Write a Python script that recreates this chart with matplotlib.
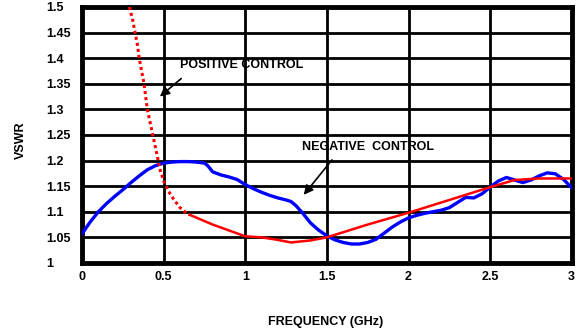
import matplotlib
matplotlib.use('Agg')
from matplotlib import pyplot as plt

plt.rcParams['font.family'] = ['Liberation Sans', 'DejaVu Sans']
plt.rcParams['font.weight'] = 'bold'

# positive control - dotted part (steep section at low freq)
pos_dot_x = [0.29, 0.31, 0.325, 0.34, 0.35, 0.365, 0.38, 0.39, 0.40, 0.42, 0.44, 0.46,
             0.48, 0.50, 0.53, 0.56, 0.60, 0.63, 0.66]
pos_dot_y = [1.50, 1.475, 1.45, 1.425, 1.40, 1.375, 1.35, 1.325, 1.30, 1.27, 1.24, 1.21,
             1.18, 1.16, 1.14, 1.125, 1.108, 1.10, 1.094]
# positive control - solid part
pos_x = [0.66, 0.8, 1.0, 1.1, 1.2, 1.28, 1.4, 1.5, 1.75, 2.0, 2.25, 2.5, 2.65, 2.8, 3.0]
pos_y = [1.094, 1.075, 1.052, 1.05, 1.045, 1.04, 1.044, 1.05, 1.075, 1.098, 1.123,
         1.148, 1.162, 1.165, 1.165]
# negative control
neg_x = [0.0, 0.05, 0.1, 0.15, 0.2, 0.25, 0.3, 0.35, 0.4, 0.45, 0.5, 0.55, 0.6, 0.65,
         0.7, 0.75, 0.77, 0.8, 0.85, 0.9, 0.95, 1.0, 1.05, 1.1, 1.15, 1.2, 1.25, 1.28,
         1.31, 1.35, 1.4, 1.45, 1.5, 1.55, 1.6, 1.65, 1.7, 1.75, 1.8, 1.85, 1.9, 1.95,
         2.0, 2.05, 2.1, 2.15, 2.2, 2.25, 2.3, 2.35, 2.4, 2.45, 2.5, 2.55, 2.6, 2.65,
         2.7, 2.75, 2.8, 2.85, 2.9, 2.95, 3.0]
neg_y = [1.057, 1.08, 1.10, 1.116, 1.13, 1.143, 1.157, 1.17, 1.182, 1.19, 1.195, 1.197,
         1.198, 1.198, 1.197, 1.195, 1.19, 1.178, 1.172, 1.168, 1.163, 1.153, 1.145,
         1.138, 1.132, 1.127, 1.123, 1.12, 1.112, 1.098, 1.078, 1.064, 1.053, 1.045,
         1.04, 1.037, 1.037, 1.04, 1.046, 1.058, 1.07, 1.08, 1.088, 1.093, 1.097, 1.10,
         1.103, 1.108, 1.118, 1.128, 1.127, 1.135, 1.148, 1.16, 1.167, 1.162, 1.157,
         1.162, 1.17, 1.176, 1.174, 1.163, 1.147]

xticks = [0, 0.5, 1, 1.5, 2, 2.5, 3]
xtick_labels = ['0', '0.5', '1', '1.5', '2', '2.5', '3']
yticks = [1, 1.05, 1.1, 1.15, 1.2, 1.25, 1.3, 1.35, 1.4, 1.45, 1.5]
ytick_labels = ['1', '1.05', '1.1', '1.15', '1.2', '1.25', '1.3', '1.35', '1.4', '1.45', '1.5']

fig = plt.figure(figsize=(5.83, 3.32), dpi=100)
ax = fig.add_axes([0.1407, 0.208, 0.84, 0.771])

ax.set_xlim(0, 3)
ax.set_ylim(1, 1.5)
ax.set_xticks(xticks)
ax.set_xticklabels(xtick_labels)
ax.set_yticks(yticks)
ax.set_yticklabels(ytick_labels, ha='left')
ax.tick_params(axis='y', length=0, labelsize=9, pad=26)
ax.tick_params(axis='x', length=0, labelsize=9, pad=6)
ax.grid(True, color='black', linewidth=2)
ax.set_axisbelow(True)
for s in ax.spines.values():
    s.set_linewidth(3.5)

ax.plot(neg_x, neg_y, color='#0000ff', linewidth=2.4, zorder=3)
ax.plot(pos_dot_x, pos_dot_y, color='#ff0000', linewidth=2.2, linestyle=(0, (1, 1)), zorder=4)
ax.plot(pos_x, pos_y, color='#ff0000', linewidth=1.8, zorder=4)

ax.annotate('POSITIVE CONTROL', xy=(0.477, 1.325), xytext=(0.6, 1.386),
            fontsize=9, fontweight='bold', va='center',
            arrowprops=dict(arrowstyle='-|>', color='black', lw=1.2, mutation_scale=14,
                            shrinkA=0, shrinkB=0,
                            relpos=(0.01, -0.6)))
ax.annotate('NEGATIVE  CONTROL', xy=(1.358, 1.133), xytext=(1.345, 1.227),
            fontsize=9, fontweight='bold', va='center',
            arrowprops=dict(arrowstyle='-|>', color='black', lw=1.2, mutation_scale=14,
                            shrinkA=0, shrinkB=0,
                            relpos=(0.23, -0.6)))

fig.text(0.036, 0.578, 'VSWR', rotation=90, fontsize=9, fontweight='bold',
         ha='center', va='center')
fig.text(0.558, 0.03, 'FREQUENCY (GHz)', fontsize=9, fontweight='bold',
         ha='center', va='center')

fig.savefig('out.png', dpi=100)
